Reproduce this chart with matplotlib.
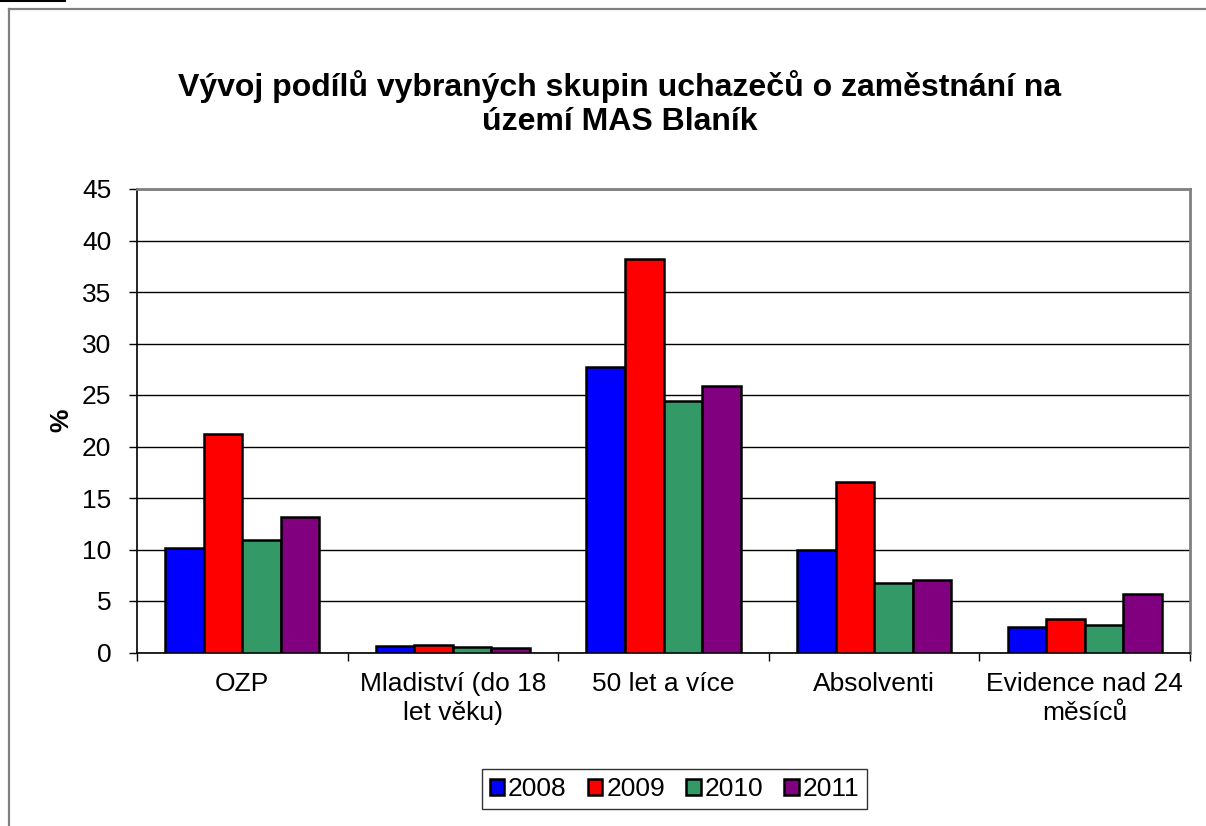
#!/usr/bin/env python3

import matplotlib
matplotlib.use('Agg')
import matplotlib.pyplot as plt
from matplotlib.lines import Line2D
import numpy as np


categories = ['OZP', 'Mladiství (do 18\nlet věku)', '50 let a více',
              'Absolventi', 'Evidence nad 24\nměsíců']
years = ['2008', '2009', '2010', '2011']
values_2008 = [10.1, 0.6, 27.7, 10.0, 2.45]
values_2009 = [21.2, 0.75, 38.2, 16.6, 3.25]
values_2010 = [10.95, 0.55, 24.4, 6.7, 2.65]
values_2011 = [13.2, 0.45, 25.9, 7.0, 5.65]
series = [values_2008, values_2009, values_2010, values_2011]
colors = ['#0000FF', '#FF0000', '#339966', '#800080']

plt.rcParams['font.family'] = ['Liberation Sans', 'DejaVu Sans']


def main():
    fig = plt.figure(figsize=(12.06, 8.26), dpi=100)
    ax = fig.add_axes([137 / 1206, 1 - 652.5 / 826, 1053 / 1206, 463.5 / 826])

    x = np.arange(len(categories))
    width = 0.183
    for i, (vals, col, yr) in enumerate(zip(series, colors, years)):
        ax.bar(x + (i - 1.5) * width, vals, width, color=col,
               edgecolor='black', linewidth=1.8, label=yr, zorder=3)

    # Axes, grid
    ax.set_xlim(-0.5, len(categories) - 0.5)
    ax.set_ylim(0, 45)
    ax.set_yticks(np.arange(0, 46, 5))
    ax.yaxis.grid(True, color='black', linewidth=1, zorder=0)
    ax.tick_params(axis='y', direction='out', length=6, width=1,
                   labelsize=19, pad=12.5)

    ax.set_xticks(np.arange(len(categories) + 1) - 0.5)
    ax.set_xticklabels([])
    ax.set_xticks(x, minor=True)
    ax.set_xticklabels(categories, minor=True, fontsize=19, linespacing=1.28)
    ax.tick_params(axis='x', which='major', direction='out', length=6, width=1)
    ax.tick_params(axis='x', which='minor', length=0, pad=14)

    for side in ['top', 'right']:
        ax.spines[side].set_color('#808080')
        ax.spines[side].set_linewidth(2)
    for side in ['left', 'bottom']:
        ax.spines[side].set_color('black')
        ax.spines[side].set_linewidth(1.2)

    ax.set_ylabel('%', fontsize=19, fontweight='bold', labelpad=6)

    fig.text(0.514, 1 - 103.5 / 826,
             'Vývoj podílů vybraných skupin uchazečů o zaměstnání na\núzemí MAS Blaník',
             ha='center', va='center', fontsize=23, fontweight='bold',
             linespacing=1.15)

    leg = ax.legend(loc='center', bbox_to_anchor=(674.5 / 1206, 1 - 789 / 826),
                    bbox_transform=fig.transFigure, ncol=4, fontsize=19,
                    frameon=True, fancybox=False, edgecolor='black',
                    handlelength=0.55, handleheight=0.55, handletextpad=0.15,
                    columnspacing=0.8, borderpad=0.3)
    leg.get_frame().set_linewidth(1)

    # Outer chart frame and the short line at top left
    fig.add_artist(Line2D([9 / 1206, 9 / 1206], [0, 1 - 9 / 826],
                          transform=fig.transFigure, color='#808080', linewidth=1.6))
    fig.add_artist(Line2D([9 / 1206, 1], [1 - 9 / 826, 1 - 9 / 826],
                          transform=fig.transFigure, color='#808080', linewidth=1.6))
    fig.add_artist(Line2D([0, 65 / 1206], [1 - 0.5 / 826, 1 - 0.5 / 826],
                          transform=fig.transFigure, color='black', linewidth=1.5))

    fig.savefig('out.png', dpi=100)


if __name__ == "__main__":
    main()
